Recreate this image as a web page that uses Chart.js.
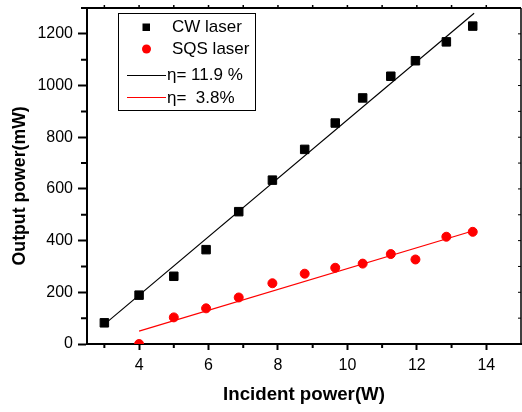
<!DOCTYPE html>
<html>
<head>
<meta charset="utf-8">
<script src="https://cdn.jsdelivr.net/npm/chart.js@4.4.1/dist/chart.umd.min.js"></script>
<style>
  html, body { margin: 0; padding: 0; background: #fff; }
  #wrap { width: 522px; height: 412px; position: relative; }
</style>
</head>
<body>
<div id="wrap"><canvas id="powerChart"></canvas></div>
<script>
// measured points
const cwX = [3, 4, 5, 5.93, 6.87, 7.84, 8.77, 9.65, 10.44, 11.25, 11.96, 12.85, 13.61];
const cwY = [82, 189, 262, 365, 512, 634, 753, 855, 952, 1036, 1096, 1169, 1230];
const sqsX = [4, 5, 5.93, 6.87, 7.84, 8.77, 9.65, 10.44, 11.25, 11.96, 12.85, 13.61];
const sqsY = [0, 103, 138, 180, 235, 272, 295, 311, 348, 327, 415, 434];

// linear fit end points
const cwFitX = [3, 13.65];
const cwFitY = [76, 1280];
const sqsFitX = [4, 13.63];
const sqsFitY = [50, 438];

const xTicks = [4, 6, 8, 10, 12, 14];
const yTicks = [0, 200, 400, 600, 800, 1000, 1200];
const xMinor = [3, 5, 7, 9, 11, 13, 15];
const yMinor = [100, 300, 500, 700, 900, 1100, 1300];

const legendLabels = ['CW laser', 'SQS laser', 'η= 11.9 %', 'η=  3.8%'];

const toPts = (xs, ys) => xs.map((x, i) => ({ x: x, y: ys[i] }));

Chart.defaults.font.family = "'Liberation Sans', Arial, sans-serif";
Chart.defaults.color = '#000';

// kill the label overhang padding so the plot box sits where it should
function noPad(s) {
    s.paddingLeft = 0;
    s.paddingRight = 0;
    s.paddingTop = 0;
    s.paddingBottom = 0;
}

// frame, minor ticks and the boxed legend
const framePlugin = {
    id: 'frame',
    afterDraw(chart) {
        const { ctx, chartArea: a, scales } = chart;
        const xs = scales.x, ys = scales.y;
        ctx.save();
        ctx.strokeStyle = '#000';

        // top + right border
        ctx.lineWidth = 2;
        ctx.beginPath();
        ctx.moveTo(a.left, a.top);
        ctx.lineTo(a.right, a.top);
        ctx.stroke();
        ctx.lineWidth = 1.5;
        ctx.beginPath();
        ctx.moveTo(a.right, a.top);
        ctx.lineTo(a.right, a.bottom);
        ctx.stroke();

        // minor ticks on bottom / left
        ctx.lineWidth = 2;
        ctx.beginPath();
        xMinor.forEach(v => {
            const px = xs.getPixelForValue(v);
            if (px > a.right - 1) return;
            ctx.moveTo(px, a.bottom);
            ctx.lineTo(px, a.bottom + 4);
        });
        yMinor.forEach(v => {
            const py = ys.getPixelForValue(v);
            ctx.moveTo(a.left, py);
            ctx.lineTo(a.left - 6, py);
        });
        ctx.stroke();

        // top ticks and right ticks
        ctx.lineWidth = 1.5;
        ctx.beginPath();
        xTicks.concat(xMinor).forEach(v => {
            const px = xs.getPixelForValue(v);
            if (px > a.right - 1) return;
            ctx.moveTo(px, a.top);
            ctx.lineTo(px, a.top - 3);
        });
        ctx.stroke();
        ctx.lineWidth = 1;
        ctx.beginPath();
        yTicks.concat(yMinor).forEach(v => {
            const py = ys.getPixelForValue(v);
            if (py < a.top + 1) return;
            ctx.moveTo(a.right, py);
            ctx.lineTo(a.right - 3, py);
        });
        ctx.stroke();

        // legend box
        ctx.lineWidth = 1;
        ctx.strokeRect(118.5, 13.5, 137, 97);

        ctx.font = "17px 'Liberation Sans', Arial, sans-serif";
        ctx.textBaseline = 'middle';
        ctx.textAlign = 'left';
        ctx.fillStyle = '#000';

        ctx.fillRect(142.5, 23.5, 7.5, 7.5);
        ctx.fillText(legendLabels[0], 172, 27);

        ctx.fillStyle = '#ff0000';
        ctx.beginPath();
        ctx.arc(146.5, 49, 4.5, 0, Math.PI * 2);
        ctx.fill();
        ctx.fillStyle = '#000';
        ctx.fillText(legendLabels[1], 172, 49);

        ctx.strokeStyle = '#000';
        ctx.beginPath();
        ctx.moveTo(127, 75.5);
        ctx.lineTo(166, 75.5);
        ctx.stroke();
        ctx.fillText(legendLabels[2], 167, 75);

        ctx.strokeStyle = '#ff0000';
        ctx.beginPath();
        ctx.moveTo(127, 97.5);
        ctx.lineTo(166, 97.5);
        ctx.stroke();
        ctx.fillText(legendLabels[3], 167, 98);

        ctx.restore();
    }
};

new Chart(document.getElementById('powerChart'), {
    type: 'scatter',
    data: {
        datasets: [
            {
                label: 'η= 11.9 %',
                data: toPts(cwFitX, cwFitY),
                showLine: true,
                borderColor: '#000',
                borderWidth: 1.2,
                pointRadius: 0,
                order: 3
            },
            {
                label: 'η=  3.8%',
                data: toPts(sqsFitX, sqsFitY),
                showLine: true,
                borderColor: '#ff0000',
                borderWidth: 1.2,
                pointRadius: 0,
                order: 3
            },
            {
                label: 'CW laser',
                data: toPts(cwX, cwY),
                pointStyle: 'rect',
                pointRadius: 6,
                backgroundColor: '#000',
                borderColor: '#000',
                borderWidth: 1,
                order: 1
            },
            {
                label: 'SQS laser',
                data: toPts(sqsX, sqsY),
                pointStyle: 'circle',
                pointRadius: 4.5,
                backgroundColor: '#ff0000',
                borderColor: '#ff0000',
                borderWidth: 1,
                order: 1
            }
        ]
    },
    options: {
        responsive: true,
        maintainAspectRatio: false,
        animation: false,
        layout: { autoPadding: false, padding: { top: 8, right: 1, left: 0, bottom: 0 } },
        plugins: {
            legend: { display: false },
            tooltip: { enabled: false }
        },
        scales: {
            x: {
                type: 'linear',
                min: 2.5,
                max: 15,
                afterBuildTicks: s => { s.ticks = xTicks.map(v => ({ value: v })); },
                afterFit: s => { s.height = 68; noPad(s); },
                ticks: { font: { size: 16 }, padding: 6, maxRotation: 0, callback: v => String(v) },
                grid: { drawOnChartArea: false, drawTicks: true, tickLength: 6, tickWidth: 2, tickColor: '#000' },
                border: { display: true, color: '#000', width: 2 },
                title: {
                    display: true,
                    text: 'Incident power(W)',
                    font: { size: 18.7, weight: 'bold' },
                    padding: { top: 0, bottom: 6 }
                }
            },
            y: {
                type: 'linear',
                min: 0,
                max: 1300,
                afterBuildTicks: s => { s.ticks = yTicks.map(v => ({ value: v })); },
                afterFit: s => { s.width = 87; noPad(s); },
                ticks: { font: { size: 16 }, padding: 5, callback: v => String(v) },
                grid: { drawOnChartArea: false, drawTicks: true, tickLength: 9, tickWidth: 2, tickColor: '#000' },
                border: { display: true, color: '#000', width: 2 },
                title: {
                    display: true,
                    // trailing spaces nudge the rotated title down like the original
                    text: 'Output power(mW)    ',
                    font: { size: 17.7, weight: 'bold' },
                    padding: { top: 9, bottom: 0 }
                }
            }
        }
    },
    plugins: [framePlugin]
});
</script>
</body>
</html>
